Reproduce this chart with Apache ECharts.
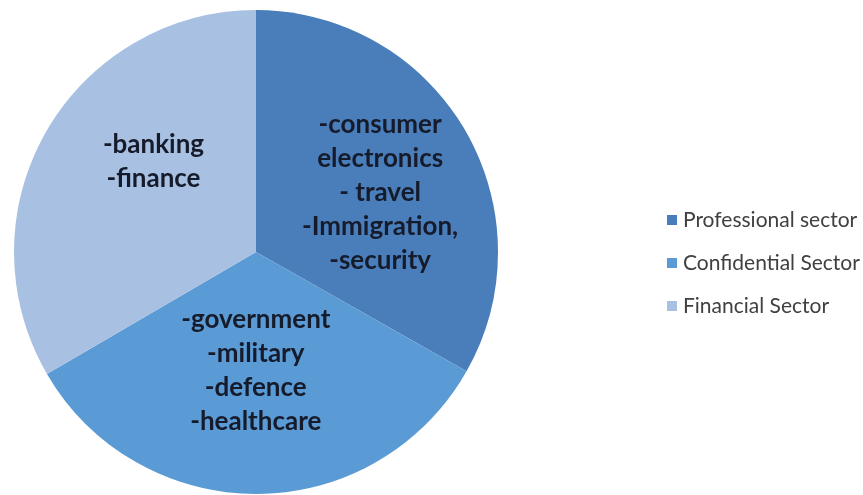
<!DOCTYPE html>
<html>
<head>
<meta charset="utf-8">
<script src="https://cdn.jsdelivr.net/npm/echarts@6/dist/echarts.min.js"></script>
<style>
html,body{margin:0;padding:0;background:#fff;}
#chart{width:863px;height:495px;}
</style>
</head>
<body>
<div id="chart"></div>
<script>
// Data
var categories = ['Professional sector', 'Confidential Sector', 'Financial Sector'];
var shares = [33.2, 33.4, 33.4];
var sliceTexts = [
  '-consumer\nelectronics\n- travel\n-Immigration,\n-security',
  '-government\n-military\n-defence\n-healthcare',
  '-banking\n-finance'
];
var colors = ['#4a7ebb', '#5a9bd5', '#a8c1e2'];
var labelOffsets = [[17, 3], [-1, -5], [5, -29]];

var chart = echarts.init(document.getElementById('chart'), null, {renderer: 'canvas'});
var data = categories.map(function (c, i) {
  return {
    name: c,
    value: shares[i],
    itemStyle: {color: colors[i]},
    label: {formatter: sliceTexts[i], offset: labelOffsets[i]}
  };
});
chart.setOption({
  animation: false,
  backgroundColor: '#ffffff',
  legend: {
    orient: 'vertical',
    left: 662,
    top: 204,
    icon: 'rect',
    itemWidth: 10,
    itemHeight: 10,
    itemGap: 21,
    textStyle: {fontFamily: 'Lato', fontSize: 21, lineHeight: 22, color: '#404040', padding: [0, 0, 0, 1]},
    data: categories
  },
  series: [{
    type: 'pie',
    center: [256, 252],
    radius: [0, 242],
    startAngle: 90,
    clockwise: true,
    avoidLabelOverlap: false,
    label: {
      show: true,
      position: 'inside',
      fontFamily: 'Lato',
      fontWeight: 'bold',
      fontSize: 26,
      lineHeight: 34,
      color: '#161b2b',
      align: 'center'
    },
    labelLine: {show: false},
    emphasis: {disabled: true},
    itemStyle: {borderWidth: 0},
    data: data
  }]
});
</script>
</body>
</html>
